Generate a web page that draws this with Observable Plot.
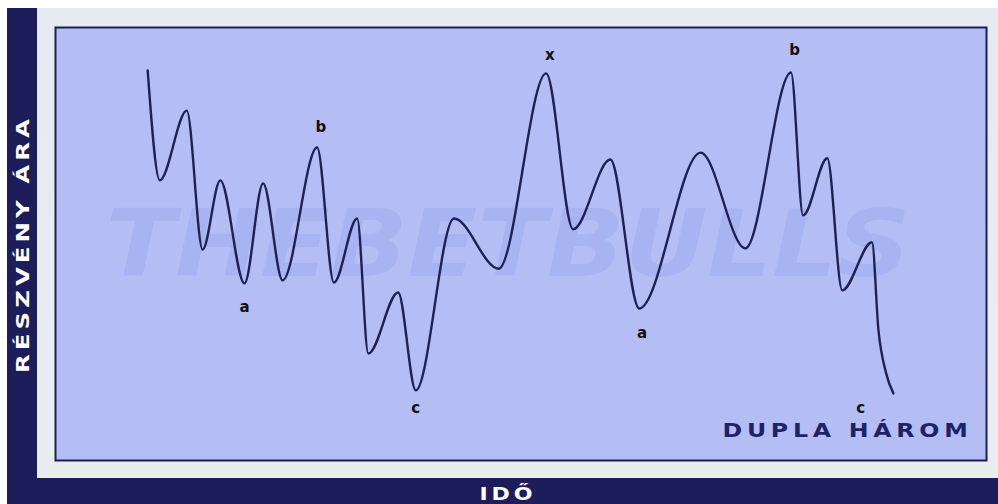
<!DOCTYPE html>
<html>
<head>
<meta charset="utf-8">
<script src="https://cdn.jsdelivr.net/npm/d3@7"></script>
<script src="https://cdn.jsdelivr.net/npm/@observablehq/plot@0.6"></script>
<style>
  html, body { margin: 0; padding: 0; background: #ffffff; }
  #wrap { position: relative; width: 998px; height: 504px; overflow: hidden; background: #ffffff; font-family: "DejaVu Sans", sans-serif; }
  .navy { position: absolute; background: #1d1d5c; }
  #light { position: absolute; left: 37px; top: 8px; width: 961px; height: 470px; background: linear-gradient(#e6eaf1, #eaedf0); }
  #plot { position: absolute; left: 55px; top: 27px; }
  #deco { position: absolute; left: 0; top: 0; }
</style>
</head>
<body>
<div id="wrap">
  <div class="navy" style="left:7px;top:8px;width:30px;height:496px;"></div>
  <div class="navy" style="left:7px;top:478px;width:991px;height:26px;"></div>
  <div id="light"></div>
  <div id="plot"></div>
  <svg id="deco" width="998" height="504">
    <text transform="translate(28.5,244) rotate(-90)" text-anchor="middle" fill="#ffffff" font-family="DejaVu Sans" font-weight="bold" font-size="18" letter-spacing="3" textLength="258" lengthAdjust="spacingAndGlyphs">RÉSZVÉNY ÁRA</text>
    <text x="508" y="500" text-anchor="middle" fill="#ffffff" font-family="DejaVu Sans" font-weight="bold" font-size="17" letter-spacing="3" textLength="57" lengthAdjust="spacingAndGlyphs">IDŐ</text>
  </svg>
</div>
<script>
// time index (0-100) and price (0-100)
const time  = [9.9, 11.2, 14.1, 15.8, 17.7, 20.3, 22.3, 24.4, 28.1, 29.9, 32.4, 33.6, 36.8, 38.7, 42.8, 47.6, 52.7, 55.6, 59.6, 62.7, 69.3, 74.1, 79.0, 80.3, 82.9, 84.5, 87.7, 88.4, 89.2, 90.0];
const price = [90.1, 64.7, 80.8, 48.7, 64.7, 40.9, 64.0, 41.6, 72.3, 41.1, 55.9, 24.7, 38.8, 16.2, 55.9, 44.3, 89.4, 53.4, 69.5, 35.1, 71.1, 49.0, 89.6, 56.6, 69.8, 39.3, 50.4, 30.0, 20.3, 15.5];

const labelText  = ["a", "b", "c", "x", "a", "b", "c"];
const labelTime  = [20.3, 28.5, 38.7, 53.1, 63.0, 79.4, 86.5];
const labelPrice = [35.3, 76.9, 12.0, 93.5, 29.3, 94.7, 12.0];

const watermark = "THEBETBULLS";
const patternName = "DUPLA HÁROM";

const series = time.map((t, i) => ({t, p: price[i]}));
const labels = labelText.map((s, i) => ({s, t: labelTime[i], p: labelPrice[i]}));

const chart = Plot.plot({
  width: 931,
  height: 433,
  margin: 0,
  x: {domain: [0, 100], axis: null},
  y: {domain: [0, 100], axis: null},
  style: {background: "transparent", overflow: "visible"},
  marks: [
    Plot.frame({fill: "#b4bef5", stroke: null}),
    Plot.text([watermark], {text: d => d, frameAnchor: "middle", dx: -13, dy: 2, fontSize: 93, fontWeight: "bold", fontStyle: "italic", fill: "#a8b3f2", fontFamily: "DejaVu Sans"}),
    Plot.line(series, {x: "t", y: "p", curve: "monotone-x", stroke: "#1f2152", strokeWidth: 2.4}),
    Plot.text(labels, {x: "t", y: "p", text: "s", fontSize: 15, fontWeight: "bold", fill: "#111111", fontFamily: "DejaVu Sans"}),
    Plot.text([patternName], {text: d => d, frameAnchor: "bottom-right", textAnchor: "end", dx: -14, dy: -24, fontSize: 20, fontWeight: "bold", fill: "#1d2366", fontFamily: "DejaVu Sans"}),
    Plot.frame({stroke: "#1d1f4f", strokeWidth: 2})
  ]
});
document.getElementById("plot").appendChild(chart);

d3.select(chart).selectAll("text").each(function() {
  const t = d3.select(this).text();
  if (t === watermark) d3.select(this).attr("textLength", 805).attr("lengthAdjust", "spacingAndGlyphs");
  if (t === patternName) d3.select(this).attr("letter-spacing", 4).attr("textLength", 250).attr("lengthAdjust", "spacingAndGlyphs");
});
</script>
</body>
</html>
